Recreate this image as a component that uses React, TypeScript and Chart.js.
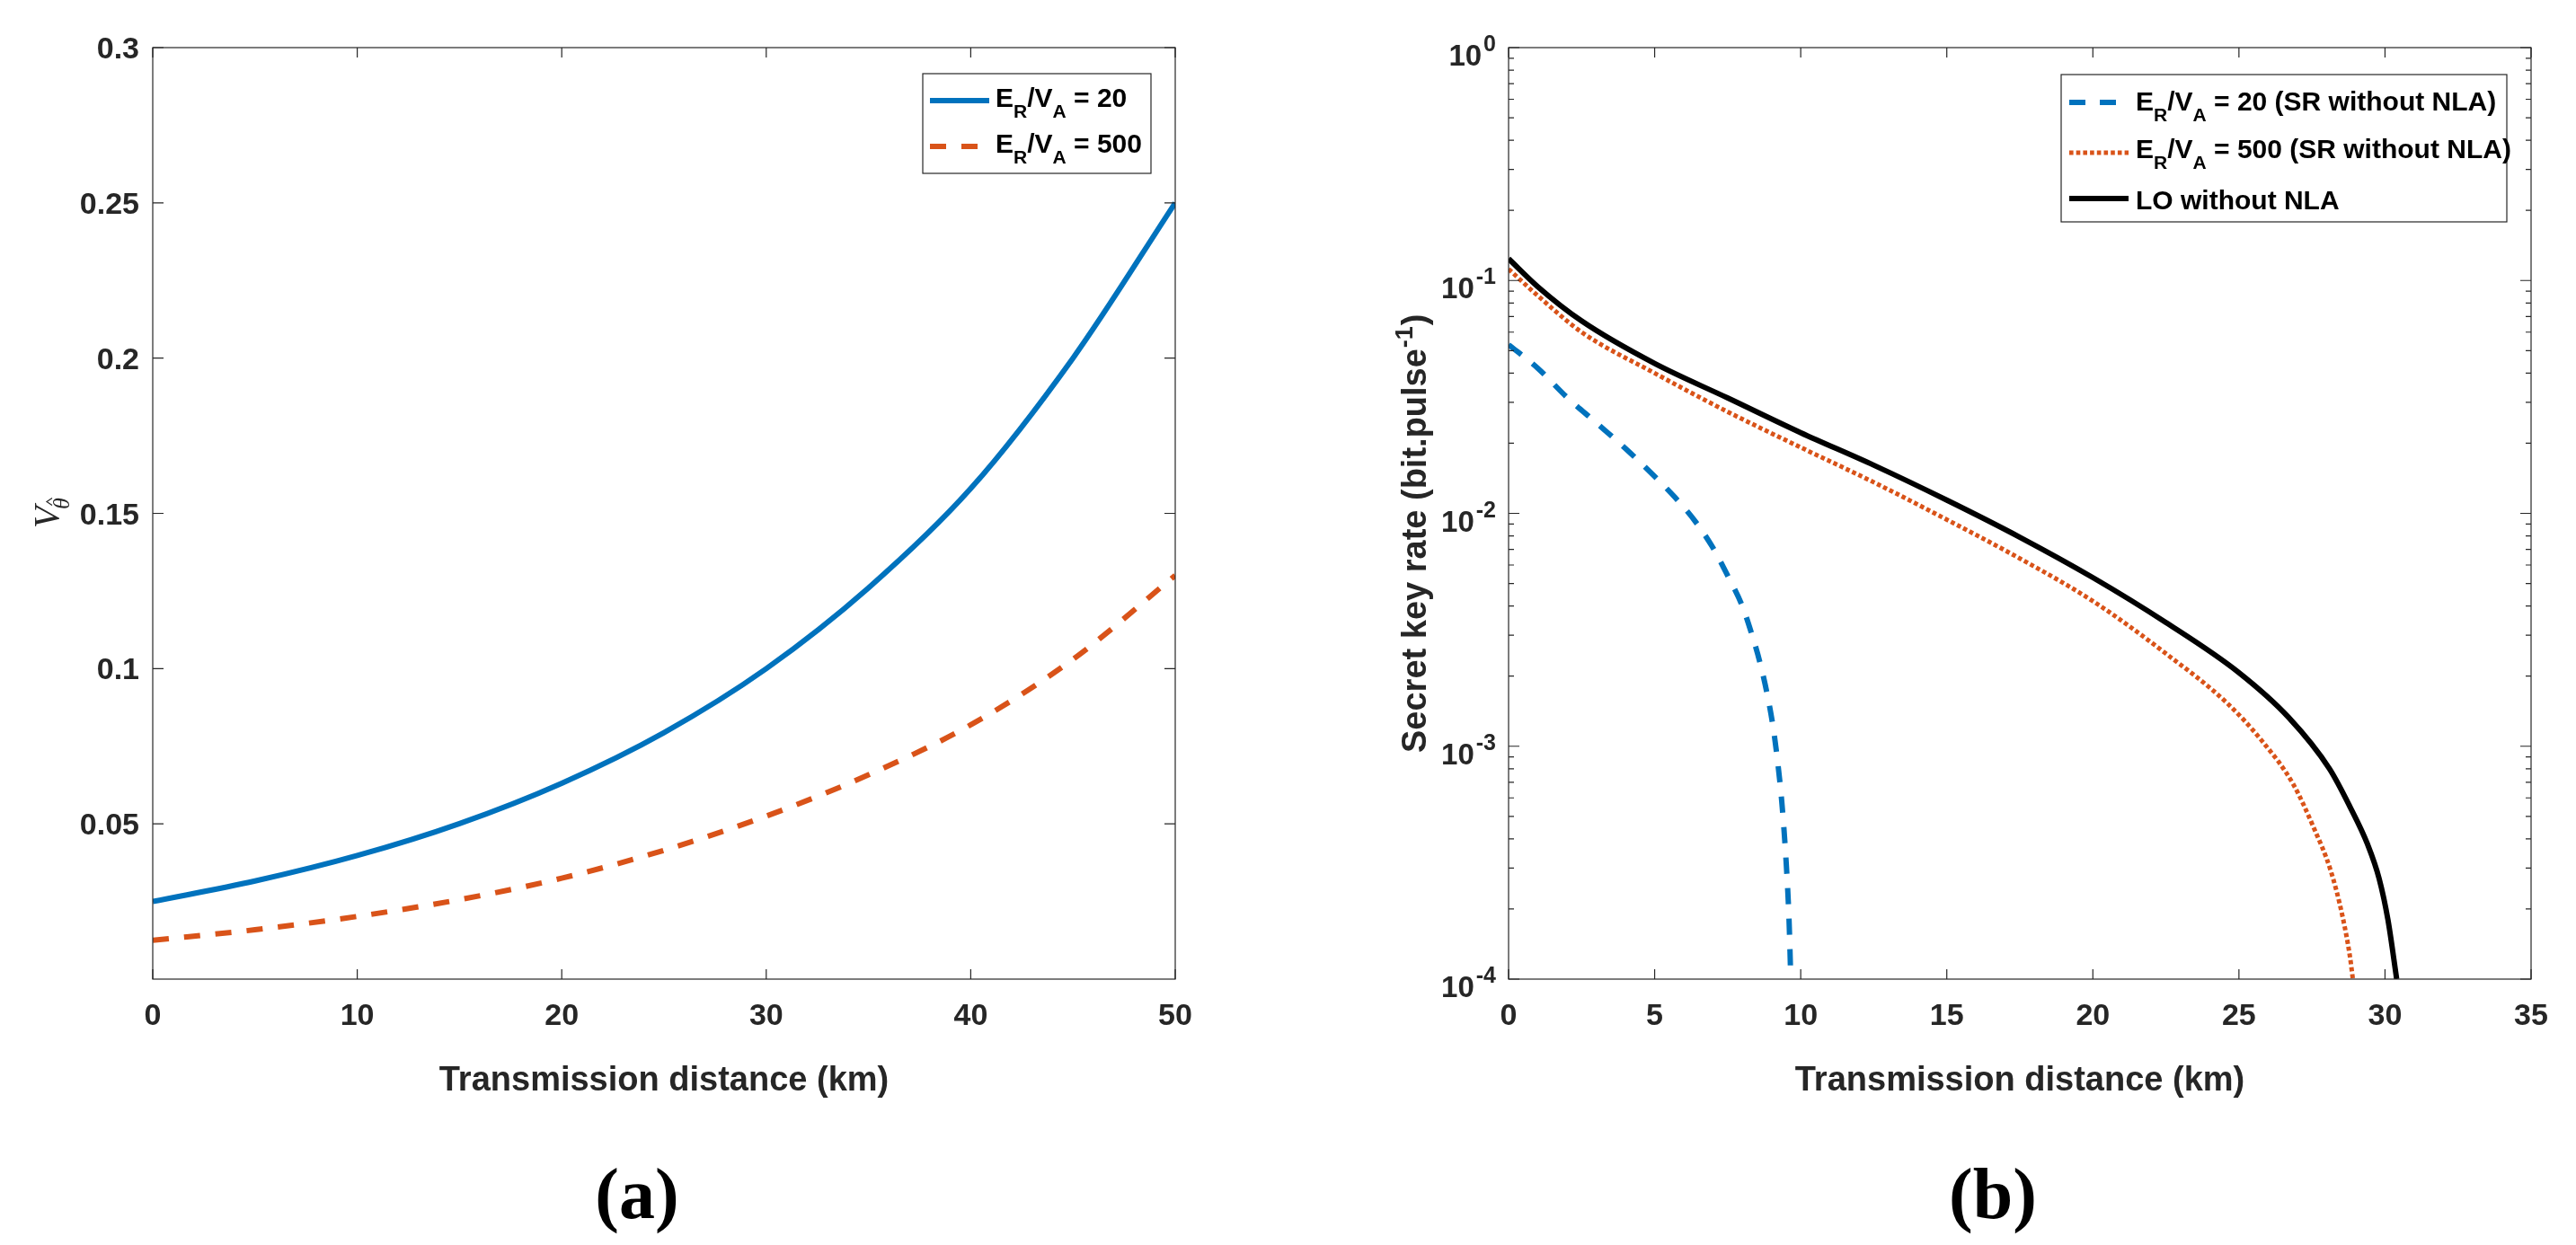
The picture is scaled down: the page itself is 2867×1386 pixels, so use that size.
import React, { useEffect, useRef } from 'react';
import { Chart, registerables } from 'chart.js';

Chart.register(...registerables);

const PAGE_W = 2867;
const PAGE_H = 1386;
const INK = '#262626';
const BLUE = '#0072BD';
const ORANGE = '#D95319';
const SANS = '"Liberation Sans", Arial, Helvetica, sans-serif';
const SERIF = '"Liberation Serif", "Times New Roman", serif';

// ---- panel (a): V_theta vs distance ----
const distA = [0, 5, 10, 15, 20, 25, 30, 35, 40, 45, 50];
const vTheta20 = [0.025, 0.0316, 0.0398, 0.0501, 0.0631, 0.0794, 0.1, 0.126, 0.158, 0.2, 0.25];
const vTheta500 = [0.0125, 0.0159, 0.0202, 0.0256, 0.0325, 0.0415, 0.0525, 0.0658, 0.0819, 0.103, 0.13];
const xTicksA = [0, 10, 20, 30, 40, 50];
const yTicksA = [0.05, 0.1, 0.15, 0.2, 0.25, 0.3];

// ---- panel (b): secret key rate vs distance ----
const distSR20 = [0, 1, 2, 3, 4, 5, 5.7, 6.4, 7, 7.5, 8, 8.3, 8.6, 8.85, 9.05, 9.2, 9.35, 9.5, 9.6, 9.66];
const rateSR20 = [0.053, 0.042, 0.0315, 0.0245, 0.019, 0.0144, 0.0117, 0.0092, 0.0071, 0.0054, 0.004, 0.0031, 0.0023, 0.00168, 0.00122, 0.00088, 0.00058, 0.00032, 0.00018, 0.0001];
const distSR500 = [0, 1, 2.5, 5, 7.5, 10, 12.5, 15, 17.5, 20, 22.5, 24.6, 25.8, 26.85, 27.55, 28.15, 28.55, 28.8, 28.9];
const rateSR500 = [0.112, 0.086, 0.06, 0.04, 0.0273, 0.0192, 0.0136, 0.0094, 0.0064, 0.0042, 0.0025, 0.00153, 0.00105, 0.00069, 0.00045, 0.00029, 0.000185, 0.000125, 0.0001];
const distLO = [0, 1, 2.5, 5, 7.5, 10, 12.5, 15, 17.5, 20, 22.5, 25, 26.7, 28.1, 28.8, 29.4, 29.8, 30.1, 30.4];
const rateLO = [0.124, 0.094, 0.067, 0.044, 0.0313, 0.0222, 0.0161, 0.0114, 0.0079, 0.0053, 0.0034, 0.00207, 0.00133, 0.0008, 0.00055, 0.00038, 0.00027, 0.00018, 0.0001];
const xTicksB = [0, 5, 10, 15, 20, 25, 30, 35];
const decadesB = [1e-4, 1e-3, 1e-2, 1e-1, 1];
const minorB = decadesB.slice(0, -1).flatMap(d => [2, 3, 4, 5, 6, 7, 8, 9].map(m => m * d));

const pts = (xs: number[], ys: number[]) => xs.map((x, i) => ({ x, y: ys[i] }));

type Part = { t: string; sub?: boolean };
type LegendRow = { color: string; dash: number[]; width: number; lineY: number; base: number; parts: Part[] };
type Legend = { box: [number, number, number, number]; sample: [number, number]; textX: number; rows: LegendRow[] };

type Panel = {
  ox: number;
  xTicks: number[];
  yTicks: number[];
  yMinor: number[];
  logY: boolean;
  legend: Legend;
  caption: string;
  captionX: number;
  yTitle: (ctx: CanvasRenderingContext2D, ox: number) => void;
};

const ratio = (n: string): Part[] => [{ t: 'E' }, { t: 'R', sub: true }, { t: '/V' }, { t: 'A', sub: true }, { t: n }];

function drawLegend(ctx: CanvasRenderingContext2D, lg: Legend, ox: number) {
  const [x0, y0, x1, y1] = lg.box;
  ctx.fillStyle = '#fff';
  ctx.fillRect(x0 - ox, y0, x1 - x0, y1 - y0);
  ctx.strokeStyle = INK;
  ctx.lineWidth = 1.2;
  ctx.strokeRect(x0 - ox, y0, x1 - x0, y1 - y0);
  lg.rows.forEach(r => {
    ctx.save();
    ctx.strokeStyle = r.color;
    ctx.lineWidth = r.width;
    ctx.lineCap = 'butt';
    ctx.setLineDash(r.dash);
    ctx.beginPath();
    ctx.moveTo(lg.sample[0] - ox, r.lineY);
    ctx.lineTo(lg.sample[1] - ox, r.lineY);
    ctx.stroke();
    ctx.restore();
    let x = lg.textX - ox;
    ctx.fillStyle = '#000';
    ctx.textAlign = 'left';
    ctx.textBaseline = 'alphabetic';
    r.parts.forEach(p => {
      ctx.font = p.sub ? `bold 21px ${SANS}` : `bold 30px ${SANS}`;
      ctx.fillText(p.t, x, r.base + (p.sub ? 12 : 0));
      x += ctx.measureText(p.t).width;
    });
  });
}

function framePlugin(p: Panel) {
  return {
    id: 'frame',
    afterDraw(chart: any) {
      const { ctx, chartArea: a } = chart;
      const xs = chart.scales.x;
      const ys = chart.scales.y;
      ctx.save();
      ctx.strokeStyle = INK;
      ctx.lineWidth = 1.2;
      ctx.strokeRect(a.left, a.top, a.right - a.left, a.bottom - a.top);
      ctx.beginPath();
      p.xTicks.forEach(v => {
        const px = xs.getPixelForValue(v);
        ctx.moveTo(px, a.bottom); ctx.lineTo(px, a.bottom - 11);
        ctx.moveTo(px, a.top); ctx.lineTo(px, a.top + 11);
      });
      p.yTicks.forEach(v => {
        const py = ys.getPixelForValue(v);
        ctx.moveTo(a.left, py); ctx.lineTo(a.left + 12, py);
        ctx.moveTo(a.right, py); ctx.lineTo(a.right - 12, py);
      });
      p.yMinor.forEach(v => {
        const py = ys.getPixelForValue(v);
        ctx.moveTo(a.left, py); ctx.lineTo(a.left + 6, py);
        ctx.moveTo(a.right, py); ctx.lineTo(a.right - 6, py);
      });
      ctx.stroke();

      // tick labels
      ctx.fillStyle = INK;
      ctx.textBaseline = 'alphabetic';
      ctx.font = `bold 34px ${SANS}`;
      ctx.textAlign = 'center';
      p.xTicks.forEach(v => ctx.fillText(String(v), xs.getPixelForValue(v), a.bottom + 51));
      if (p.logY) {
        ctx.textAlign = 'left';
        p.yTicks.forEach(v => {
          const py = ys.getPixelForValue(v);
          const exp = String(Math.round(Math.log10(v)));
          ctx.font = `bold 25px ${SANS}`;
          const ex = a.left - 14 - ctx.measureText(exp).width;
          ctx.fillText(exp, ex, py + 4);
          ctx.font = `bold 33px ${SANS}`;
          ctx.fillText('10', ex - 2 - ctx.measureText('10').width, py + 20);
        });
      } else {
        ctx.textAlign = 'right';
        p.yTicks.forEach(v => ctx.fillText(String(+v.toFixed(2)), a.left - 15, ys.getPixelForValue(v) + 12));
      }

      // axis titles
      ctx.font = `bold 38px ${SANS}`;
      ctx.textAlign = 'center';
      ctx.fillText('Transmission distance (km)', (a.left + a.right) / 2, 1214);
      ctx.textAlign = 'left';
      p.yTitle(ctx, p.ox);

      drawLegend(ctx, p.legend, p.ox);

      // sub-figure caption
      ctx.fillStyle = '#000';
      ctx.font = `bold 80px ${SERIF}`;
      ctx.textAlign = 'center';
      ctx.fillText(p.caption, p.captionX - p.ox, 1356);
      ctx.restore();
    },
  };
}

function drawVTitle(ctx: CanvasRenderingContext2D, ox: number) {
  ctx.save();
  ctx.translate(65 - ox, 588);
  ctx.rotate(-Math.PI / 2);
  ctx.fillStyle = INK;
  ctx.textAlign = 'left';
  ctx.font = `italic 40px ${SERIF}`;
  ctx.fillText('V', 0, 0);
  ctx.font = `italic 26px ${SERIF}`;
  ctx.fillText('θ', 21, 12);
  const hx = 21 + ctx.measureText('θ').width / 2 + 2;
  ctx.strokeStyle = INK;
  ctx.lineWidth = 1.2;
  ctx.beginPath();
  ctx.moveTo(hx - 4, -7); ctx.lineTo(hx, -13); ctx.lineTo(hx + 4, -7);
  ctx.stroke();
  ctx.restore();
}

function drawRateTitle(ctx: CanvasRenderingContext2D, ox: number) {
  ctx.save();
  ctx.translate(1587 - ox, 838);
  ctx.rotate(-Math.PI / 2);
  ctx.fillStyle = INK;
  ctx.textAlign = 'left';
  const main = 'Secret key rate (bit.pulse';
  ctx.font = `bold 38px ${SANS}`;
  ctx.fillText(main, 0, 0);
  let w = ctx.measureText(main).width + 1;
  ctx.font = `bold 27px ${SANS}`;
  ctx.fillText('-1', w, -15);
  w += ctx.measureText('-1').width + 1;
  ctx.font = `bold 38px ${SANS}`;
  ctx.fillText(')', w, 0);
  ctx.restore();
}

const lineDefaults = {
  pointRadius: 0,
  borderJoinStyle: 'round' as const,
  borderCapStyle: 'butt' as const,
  cubicInterpolationMode: 'monotone' as const,
  fill: false,
};

function baseOptions(padRight: number, yWidth: number) {
  return {
    responsive: false,
    animation: false,
    events: [],
    layout: { padding: { top: 53, right: padRight, left: 0, bottom: 0 } },
    plugins: { legend: { display: false }, tooltip: { enabled: false } },
    scales: {
      x: {
        type: 'linear',
        grid: { display: false },
        border: { display: false },
        ticks: { display: false },
        afterFit: (s: any) => { s.height = PAGE_H - 1090; },
      },
      y: {
        grid: { display: false },
        border: { display: false },
        ticks: { display: false },
        afterFit: (s: any) => { s.width = yWidth; },
      },
    },
  };
}

function buildA() {
  const opts: any = baseOptions(1450 - 1308, 170);
  opts.scales.x.min = 0;
  opts.scales.x.max = 50;
  opts.scales.y.type = 'linear';
  opts.scales.y.min = 0;
  opts.scales.y.max = 0.3;
  const panel: Panel = {
    ox: 0,
    xTicks: xTicksA,
    yTicks: yTicksA,
    yMinor: [],
    logY: false,
    caption: '(a)',
    captionX: 709,
    yTitle: drawVTitle,
    legend: {
      box: [1027, 82, 1281, 193],
      sample: [1035, 1101],
      textX: 1108,
      rows: [
        { color: BLUE, dash: [], width: 6, lineY: 112, base: 119, parts: ratio(' = 20') },
        { color: ORANGE, dash: [18, 17], width: 6, lineY: 163, base: 170, parts: ratio(' = 500') },
      ],
    },
  };
  return {
    type: 'line',
    data: {
      datasets: [
        { ...lineDefaults, label: 'ER/VA = 20', data: pts(distA, vTheta20), borderColor: BLUE, borderWidth: 6 },
        { ...lineDefaults, label: 'ER/VA = 500', data: pts(distA, vTheta500), borderColor: ORANGE, borderWidth: 6, borderDash: [18, 17] },
      ],
    },
    options: opts,
    plugins: [framePlugin(panel)],
  };
}

function buildB() {
  const opts: any = baseOptions(1417 - (2817 - 1450), 1679 - 1450);
  opts.scales.x.min = 0;
  opts.scales.x.max = 35;
  opts.scales.y.type = 'logarithmic';
  opts.scales.y.min = 1e-4;
  opts.scales.y.max = 1;
  const panel: Panel = {
    ox: 1450,
    xTicks: xTicksB,
    yTicks: decadesB,
    yMinor: minorB,
    logY: true,
    caption: '(b)',
    captionX: 2218,
    yTitle: drawRateTitle,
    legend: {
      box: [2294, 83, 2790, 247],
      sample: [2303, 2369],
      textX: 2377,
      rows: [
        { color: BLUE, dash: [18, 16], width: 6, lineY: 114, base: 123, parts: ratio(' = 20 (SR without NLA)') },
        { color: ORANGE, dash: [4.6, 3.1], width: 5, lineY: 170, base: 176, parts: ratio(' = 500 (SR without NLA)') },
        { color: '#000', dash: [], width: 6, lineY: 221, base: 233, parts: [{ t: 'LO without NLA' }] },
      ],
    },
  };
  return {
    type: 'line',
    data: {
      datasets: [
        { ...lineDefaults, label: 'ER/VA = 20 (SR without NLA)', data: pts(distSR20, rateSR20), borderColor: BLUE, borderWidth: 6, borderDash: [18, 16] },
        { ...lineDefaults, label: 'ER/VA = 500 (SR without NLA)', data: pts(distSR500, rateSR500), borderColor: ORANGE, borderWidth: 5, borderDash: [4.6, 3.1] },
        { ...lineDefaults, label: 'LO without NLA', data: pts(distLO, rateLO), borderColor: '#000', borderWidth: 6 },
      ],
    },
    options: opts,
    plugins: [framePlugin(panel)],
  };
}

function ChartCanvas({ left, width, build }: { left: number; width: number; build: () => any }) {
  const ref = useRef<HTMLCanvasElement>(null);
  useEffect(() => {
    if (!ref.current) return;
    const chart = new Chart(ref.current, build());
    return () => chart.destroy();
  }, []);
  return (
    <canvas
      ref={ref}
      width={width}
      height={PAGE_H}
      style={{ position: 'absolute', left, top: 0, width, height: PAGE_H }}
    />
  );
}

export default function App() {
  return (
    <div style={{ position: 'fixed', left: 0, top: 0, width: PAGE_W, height: PAGE_H, background: '#fff', overflow: 'hidden' }}>
      <ChartCanvas left={0} width={1450} build={buildA} />
      <ChartCanvas left={1450} width={1417} build={buildB} />
    </div>
  );
}
